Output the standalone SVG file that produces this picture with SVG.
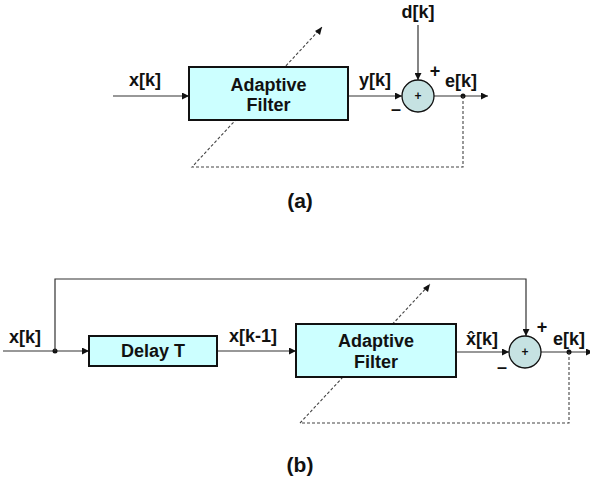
<svg xmlns="http://www.w3.org/2000/svg" width="590" height="483" viewBox="0 0 590 483">
<style>
text{font-family:"Liberation Sans",Arial,sans-serif;font-weight:bold;fill:#111;text-anchor:middle}
.lbl{font-size:18px}
.sm{font-size:12px}
.cap{font-size:21px}
.box{fill:#CCFFFF;stroke:#111;stroke-width:2}
.sum{fill:#C6E2E2;stroke:#111;stroke-width:1.3}
.ln{fill:none;stroke:#333;stroke-width:1.2}
.ds{fill:none;stroke:#444;stroke-width:1.1;stroke-dasharray:3 2}
</style>
<defs>
<marker id="ar" viewBox="0 0 10 10" refX="10" refY="5" markerWidth="7" markerHeight="7" markerUnits="userSpaceOnUse" orient="auto">
<path d="M0,0 L10,5 L0,10 z" fill="#111"/>
</marker>
</defs>
<g id="connectors">
<line class="ln" x1="113" y1="96" x2="189" y2="96" marker-end="url(#ar)"/>
<line class="ln" x1="348" y1="96" x2="402" y2="96" marker-end="url(#ar)"/>
<line class="ln" x1="418" y1="25" x2="418" y2="80" marker-end="url(#ar)"/>
<line class="ln" x1="434" y1="96" x2="488" y2="96" marker-end="url(#ar)"/>
<circle cx="463" cy="96" r="2.5" fill="#111"/>
<polyline class="ds" points="463,96 463,167 192,167 322,27"/>
<path d="M322,27 L315,31 L320,35 z" fill="#111"/>
<line class="ln" x1="3" y1="351" x2="89" y2="351" marker-end="url(#ar)"/>
<circle cx="55" cy="351" r="2.5" fill="#111"/>
<polyline class="ln" points="55,351 55,279 526,279 526,336" marker-end="url(#ar)"/>
<line class="ln" x1="217" y1="351" x2="296" y2="351" marker-end="url(#ar)"/>
<line class="ln" x1="456" y1="352" x2="509" y2="352" marker-end="url(#ar)"/>
<line class="ln" x1="541" y1="352" x2="593" y2="352" marker-end="url(#ar)"/>
<circle cx="569" cy="352" r="2.5" fill="#111"/>
<polyline class="ds" points="569,352 569,423 300,423 430,284"/>
<path d="M430,284 L423,288 L428,292 z" fill="#111"/>
</g>
<g id="filter-a">
<rect class="box" x="189" y="67" width="159" height="53"/>
<text class="lbl" x="268.5" y="91">Adaptive</text>
<text class="lbl" x="268.5" y="111">Filter</text>
</g>
<g id="sum-a">
<circle class="sum" cx="418" cy="96" r="16"/>
<text class="sm" x="418" y="100">+</text>
</g>
<g id="labels-a">
<text class="lbl" x="145" y="86">x[k]</text>
<text class="lbl" x="375" y="86">y[k]</text>
<text class="lbl" x="418" y="18">d[k]</text>
<text class="lbl" x="461" y="87">e[k]</text>
<text class="lbl" x="435" y="77">+</text>
<text class="lbl" x="396" y="115">–</text>
<text class="cap" x="300" y="208">(a)</text>
</g>
<g id="delay-b">
<rect class="box" x="89" y="336" width="128" height="30"/>
<text class="lbl" x="153" y="357">Delay T</text>
</g>
<g id="filter-b">
<rect class="box" x="296" y="324" width="160" height="53"/>
<text class="lbl" x="376" y="347">Adaptive</text>
<text class="lbl" x="376" y="368">Filter</text>
</g>
<g id="sum-b">
<circle class="sum" cx="525" cy="352" r="16"/>
<text class="sm" x="525" y="356">+</text>
</g>
<g id="labels-b">
<text class="lbl" x="25" y="343">x[k]</text>
<text class="lbl" x="253" y="342">x[k-1]</text>
<text class="lbl" x="482" y="345">x̂[k]</text>
<text class="lbl" x="569" y="345">e[k]</text>
<text class="lbl" x="542" y="333">+</text>
<text class="lbl" x="502" y="373">–</text>
<text class="cap" x="300" y="472">(b)</text>
</g>
</svg>
